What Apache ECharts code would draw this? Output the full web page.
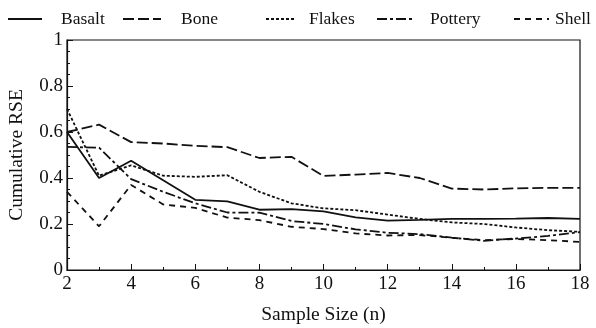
<!DOCTYPE html>
<html><head><meta charset="utf-8">
<script src="https://cdn.jsdelivr.net/npm/echarts@6/dist/echarts.min.js"></script>
<style>html,body{margin:0;padding:0;background:#fff}#c{width:596px;height:328px}</style>
</head><body><div id="c"></div>
<script>
const sampleSizes = [2,3,4,5,6,7,8,9,10,11,12,13,14,15,16,17,18];
const basalt  = [0.60,0.40,0.475,0.39,0.305,0.298,0.262,0.265,0.255,0.229,0.215,0.218,0.222,0.222,0.223,0.226,0.222];
const bone    = [0.60,0.632,0.556,0.55,0.54,0.534,0.487,0.492,0.409,0.415,0.422,0.400,0.354,0.350,0.355,0.357,0.357];
const flakes  = [0.70,0.41,0.455,0.41,0.405,0.412,0.34,0.29,0.268,0.26,0.241,0.222,0.207,0.200,0.185,0.173,0.166];
const pottery = [0.535,0.532,0.395,0.34,0.29,0.25,0.249,0.213,0.20,0.177,0.162,0.156,0.141,0.127,0.137,0.148,0.165];
const shell   = [0.34,0.19,0.37,0.285,0.27,0.228,0.217,0.188,0.178,0.159,0.150,0.152,0.140,0.130,0.135,0.130,0.122];
const seriesNames = ['Basalt','Bone','Flakes','Pottery','Shell'];
const seriesData = [basalt, bone, flakes, pottery, shell];
const dashes = ['solid',[11,4],[3,2],[10,3,3,3],[6,5]];
const legendLeft = [7,122,265,376,513];
const legendIconW = [34,38,30,38,35];
const legendTextGap = [14,15,8,10,1];

const font = 'Liberation Serif';
const chart = echarts.init(document.getElementById('c'));
const series = seriesNames.map((n,i)=>({
  name:n, type:'line', symbol:'none', showSymbol:false, silent:true,
  data: sampleSizes.map((x,j)=>[x, seriesData[i][j]]),
  lineStyle:{color:'#111', width:1.8, type:dashes[i]},
  itemStyle:{color:'#111'}
}));
const legends = seriesNames.map((n,i)=>({
  data:[{name:n}], left:legendLeft[i], top:10, padding:0,
  itemWidth:legendIconW[i], itemHeight:14, itemGap:0,
  itemStyle:{opacity:0},
  lineStyle:{width:2},
  textStyle:{fontFamily:font, fontSize:17.5, color:'#111', padding:[0,0,0,legendTextGap[i]]}
}));
chart.setOption({
  animation:false,
  legend: legends,
  grid:{left:67, right:16, top:40, bottom:58, containLabel:false, outerBoundsMode:'none',
    show:true, borderColor:'#111', borderWidth:1.2, backgroundColor:'transparent'},
  xAxis:{type:'value', min:2, max:18, interval:2,
    name:'Sample Size (n)', nameLocation:'middle', nameGap:35,
    nameTextStyle:{fontFamily:font, fontSize:19.5, color:'#111'},
    axisLine:{lineStyle:{color:'#111', width:1.2}},
    axisTick:{inside:true, length:6, lineStyle:{color:'#111'}},
    minorTick:{show:true, splitNumber:2, length:3, lineStyle:{color:'#111'}},
    splitLine:{show:false},
    axisLabel:{fontFamily:font, fontSize:19, color:'#111', margin:5}
  },
  yAxis:{type:'value', min:0, max:1, interval:0.2,
    name:'Cumulative RSE', nameLocation:'middle', nameGap:40,
    nameTextStyle:{fontFamily:font, fontSize:19.5, color:'#111'},
    axisLine:{show:true, lineStyle:{color:'#111', width:1.2}},
    axisTick:{show:true, inside:true, length:6, lineStyle:{color:'#111'}},
    minorTick:{show:true, splitNumber:4, length:3, lineStyle:{color:'#111'}},
    splitLine:{show:false},
    axisLabel:{fontFamily:font, fontSize:19, color:'#111', margin:4}
  },
  series: series
});
</script></body></html>
